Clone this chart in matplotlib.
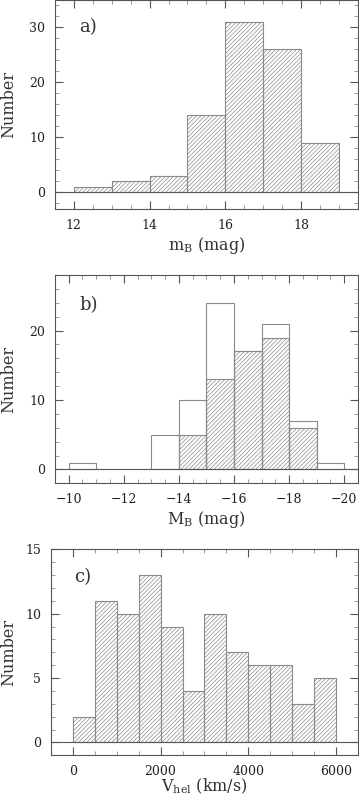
import numpy as np
import matplotlib
matplotlib.use("Agg")
import matplotlib.pyplot as plt
from matplotlib.ticker import MultipleLocator


# ----------------------------------------
# datos
# ----------------------------------------
mb_edges = [12, 13, 14, 15, 16, 17, 18, 19]
mb_counts = [1, 2, 3, 14, 31, 26, 9]

Mb_edges = [-10, -11, -12, -13, -14, -15, -16, -17, -18, -19, -20]
Mb_total = [1, 0, 0, 5, 10, 24, 17, 21, 7, 1]
Mb_sample = [0, 0, 0, 0, 5, 13, 17, 19, 6, 0]

v_edges = [0, 500, 1000, 1500, 2000, 2500, 3000, 3500, 4000, 4500, 5000, 5500, 6000]
v_counts = [2, 11, 10, 13, 9, 4, 10, 7, 6, 6, 3, 5]

plt.rcParams['font.family'] = ['DejaVu Serif']
plt.rcParams['mathtext.fontset'] = 'dejavuserif'
plt.rcParams['hatch.linewidth'] = 0.5

EDGE = '#8a8a8a'
SPINE = '#555555'
TXT = '#333333'


def histo(ax, edges, counts, hatch=None):
    edges = np.asarray(edges, dtype=float)
    lefts = edges[:-1]
    widths = np.diff(edges)
    for l, w, c in zip(lefts, widths, counts):
        if c <= 0:
            continue
        ax.bar(l, c, width=w, align='edge', fill=False,
               edgecolor=EDGE, linewidth=0.8, hatch=hatch, zorder=2)


def estilo(ax, xmaj, xmin, ymaj, ymin, ylab_x, xlab_y):
    ax.axhline(0, color=SPINE, linewidth=0.8, zorder=3)
    ax.xaxis.set_major_locator(MultipleLocator(xmaj))
    ax.xaxis.set_minor_locator(MultipleLocator(xmin))
    ax.yaxis.set_major_locator(MultipleLocator(ymaj))
    ax.yaxis.set_minor_locator(MultipleLocator(ymin))
    ax.tick_params(which='both', direction='in', top=True, right=True,
                   colors=SPINE, labelcolor='#222222', labelsize=9)
    ax.tick_params(which='major', length=6, width=0.8, pad=7)
    ax.tick_params(which='minor', length=3, width=0.7, color='#999999')
    for s in ax.spines.values():
        s.set_color(SPINE)
        s.set_linewidth(0.8)
    ax.set_ylabel("Number", fontsize=11.5, color=TXT)
    ax.yaxis.set_label_coords(ylab_x, 0.5)
    ax.xaxis.set_label_coords(0.5, xlab_y)


fig = plt.figure(figsize=(3.59, 7.95), dpi=100)

# panel a
ax1 = fig.add_axes([0.153, 0.737, 0.844, 0.263])
histo(ax1, mb_edges, mb_counts, hatch='////////')
ax1.set_xlim(11.5, 19.5)
ax1.set_ylim(-3.1, 35)
ax1.set_xlabel(r"m$_\mathrm{B}$ (mag)", fontsize=11.5, color=TXT)
estilo(ax1, 2, 0.5, 10, 2, -0.125, -0.125)
ax1.text(0.08, 0.87, "a)", transform=ax1.transAxes, fontsize=13,
         va='center', ha='left', color=TXT)

# panel b
ax2 = fig.add_axes([0.153, 0.392, 0.844, 0.262])
histo(ax2, Mb_edges, Mb_total)
histo(ax2, Mb_edges, Mb_sample, hatch='////////')
ax2.set_xlim(-9.5, -20.5)
ax2.set_ylim(-2, 28)
ax2.set_xlabel(r"M$_\mathrm{B}$ (mag)", fontsize=11.5, color=TXT)
estilo(ax2, 2, 0.5, 10, 2, -0.125, -0.125)
ax2.set_xticks([-10, -12, -14, -16, -18, -20])
ax2.set_xticklabels(["\u221210", "\u221212", "\u221214", "\u221216", "\u221218", "\u221220"])
ax2.text(0.08, 0.855, "b)", transform=ax2.transAxes, fontsize=13,
         va='center', ha='left', color=TXT)

# panel c
ax3 = fig.add_axes([0.142, 0.050, 0.855, 0.259])
histo(ax3, v_edges, v_counts, hatch='////////')
ax3.set_xlim(-500, 6500)
ax3.set_ylim(-1, 15)
ax3.set_xlabel(r"V$_\mathrm{hel}$ (km/s)", fontsize=11.5, color=TXT)
estilo(ax3, 2000, 500, 5, 1, -0.11, -0.105)
ax3.text(0.075, 0.867, "c)", transform=ax3.transAxes, fontsize=13,
         va='center', ha='left', color=TXT)

fig.savefig("out.png", dpi=100)
